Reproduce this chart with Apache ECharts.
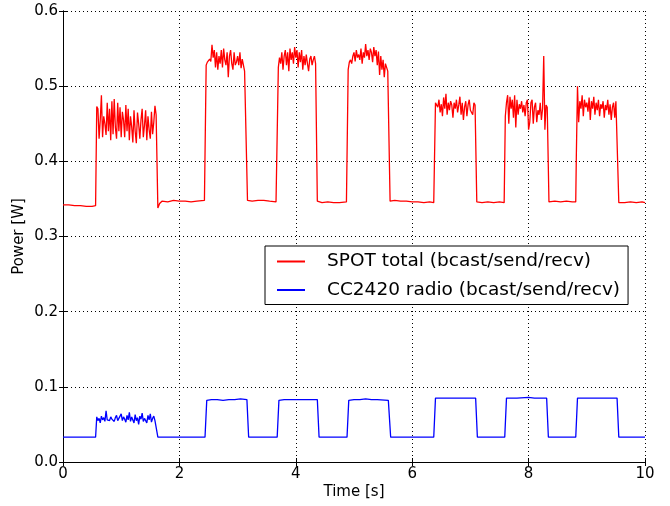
<!DOCTYPE html>
<html>
<head>
<meta charset="utf-8">
<style>
    html, body { margin: 0; padding: 0; background: #fff; }
    #chart1 { width: 670px; height: 506px; }
</style>
<script src="https://cdn.jsdelivr.net/npm/echarts@6/dist/echarts.min.js"></script>
</head>
<body>
<div id="chart1"></div>
<script>
// sample spacing inside the busy periods (s)
var step = 0.02;

// SPOT total - busy periods, start time of each and its samples (W)
var redStarts = [0.58, 2.46, 3.70, 4.90, 6.40, 7.60, 8.84];
var redBusy1 = [0.473, 0.470, 0.430, 0.455, 0.488, 0.432, 0.460, 0.450, 0.435, 0.478,
    0.440, 0.470, 0.428, 0.480, 0.436, 0.483, 0.445, 0.430, 0.478, 0.440,
    0.472, 0.432, 0.466, 0.455, 0.432, 0.475, 0.440, 0.470, 0.428, 0.460,
    0.446, 0.425, 0.468, 0.440, 0.424, 0.465, 0.450, 0.430, 0.455, 0.470,
    0.432, 0.448, 0.468, 0.428, 0.460, 0.442, 0.430, 0.466, 0.436, 0.452,
    0.474, 0.462];
var redBusy2 = [0.528, 0.532, 0.530, 0.536, 0.533, 0.555, 0.538, 0.548, 0.525, 0.545,
    0.522, 0.540, 0.530, 0.548, 0.525, 0.550, 0.535, 0.528, 0.545, 0.512,
    0.540, 0.548, 0.530, 0.522, 0.545, 0.528, 0.532, 0.540, 0.528, 0.545,
    0.524, 0.536, 0.528, 0.520, 0.518];
var redBusy3 = [0.525, 0.538, 0.530, 0.545, 0.522, 0.540, 0.548, 0.528, 0.545, 0.520,
    0.550, 0.535, 0.545, 0.530, 0.552, 0.538, 0.548, 0.525, 0.545, 0.532,
    0.548, 0.522, 0.540, 0.528, 0.542, 0.530, 0.520, 0.536, 0.540, 0.528,
    0.535, 0.540, 0.530];
var redBusy4 = [0.522, 0.532, 0.535, 0.530, 0.540, 0.545, 0.533, 0.548, 0.538, 0.542,
    0.535, 0.550, 0.530, 0.545, 0.538, 0.556, 0.540, 0.548, 0.535, 0.550,
    0.545, 0.532, 0.552, 0.540, 0.548, 0.528, 0.546, 0.515, 0.540, 0.522,
    0.535, 0.512, 0.530, 0.525, 0.520];
var redBusy5 = [0.478, 0.480, 0.472, 0.482, 0.465, 0.476, 0.460, 0.485, 0.470, 0.490,
    0.462, 0.478, 0.468, 0.480, 0.475, 0.458, 0.478, 0.470, 0.482, 0.465,
    0.475, 0.486, 0.462, 0.478, 0.455, 0.472, 0.480, 0.460, 0.475, 0.482,
    0.468, 0.470, 0.462, 0.478, 0.475];
var redBusy6 = [0.460, 0.478, 0.488, 0.450, 0.486, 0.470, 0.482, 0.458, 0.488, 0.445,
    0.482, 0.462, 0.476, 0.470, 0.480, 0.465, 0.475, 0.460, 0.478, 0.482,
    0.442, 0.452, 0.478, 0.482, 0.450, 0.472, 0.478, 0.452, 0.468, 0.462,
    0.478, 0.455, 0.470, 0.540, 0.442, 0.475, 0.472];
var redBusy7 = [0.500, 0.452, 0.480, 0.470, 0.488, 0.460, 0.482, 0.472, 0.478, 0.466,
    0.485, 0.455, 0.480, 0.470, 0.486, 0.462, 0.478, 0.468, 0.482, 0.460,
    0.476, 0.470, 0.480, 0.458, 0.475, 0.468, 0.482, 0.462, 0.476, 0.455,
    0.472, 0.478, 0.458, 0.480, 0.478];

// SPOT total - idle periods [time, W]
var redIdle = [
    [0.00, 0.342], [0.10, 0.342], [0.20, 0.341], [0.30, 0.341], [0.40, 0.340], [0.50, 0.340], [0.56, 0.341],
    [1.63, 0.338], [1.66, 0.344], [1.70, 0.347], [1.80, 0.346], [1.90, 0.348], [2.00, 0.347], [2.10, 0.347],
    [2.20, 0.346], [2.30, 0.347], [2.43, 0.348],
    [3.17, 0.348], [3.25, 0.347], [3.35, 0.348], [3.45, 0.348], [3.55, 0.347], [3.66, 0.346],
    [4.37, 0.347], [4.45, 0.345], [4.55, 0.346], [4.65, 0.345], [4.75, 0.345], [4.87, 0.346],
    [5.62, 0.347], [5.70, 0.348], [5.80, 0.347], [5.90, 0.347], [6.00, 0.346], [6.10, 0.346],
    [6.20, 0.345], [6.30, 0.346], [6.37, 0.345],
    [7.11, 0.346], [7.20, 0.345], [7.30, 0.346], [7.40, 0.345], [7.50, 0.346], [7.58, 0.345],
    [8.35, 0.346], [8.45, 0.347], [8.55, 0.346], [8.65, 0.347], [8.75, 0.346], [8.81, 0.346], [8.82, 0.406],
    [9.55, 0.345], [9.65, 0.345], [9.75, 0.346], [9.85, 0.345], [9.95, 0.346], [10.00, 0.345]
];

// CC2420 radio - first (noisy) busy period
var blueStart1 = 0.58;
var blueBusy1 = [0.060, 0.055, 0.058, 0.052, 0.061, 0.056, 0.059, 0.054, 0.068, 0.056,
    0.058, 0.055, 0.060, 0.057, 0.058, 0.054, 0.059, 0.062, 0.055, 0.058,
    0.056, 0.064, 0.055, 0.060, 0.057, 0.053, 0.062, 0.056, 0.066, 0.054,
    0.060, 0.058, 0.052, 0.063, 0.055, 0.059, 0.050, 0.061, 0.057, 0.065,
    0.054, 0.058, 0.060, 0.052, 0.062, 0.056, 0.064, 0.053, 0.058, 0.061,
    0.055, 0.057];

// CC2420 radio - everything else [time, W]
var blueRest = [
    [0.00, 0.033], [0.30, 0.033], [0.56, 0.033],
    [1.63, 0.033], [2.00, 0.033], [2.44, 0.033],
    [2.47, 0.082], [2.55, 0.083], [2.65, 0.083], [2.75, 0.082], [2.85, 0.083], [2.95, 0.083], [3.05, 0.084], [3.16, 0.083],
    [3.19, 0.033], [3.40, 0.033], [3.68, 0.033],
    [3.71, 0.082], [3.80, 0.083], [3.90, 0.083], [4.00, 0.083], [4.10, 0.083], [4.20, 0.083], [4.37, 0.083],
    [4.40, 0.033], [4.60, 0.033], [4.88, 0.033],
    [4.91, 0.082], [5.00, 0.083], [5.10, 0.083], [5.20, 0.084], [5.30, 0.083], [5.40, 0.083], [5.59, 0.082],
    [5.63, 0.033], [6.00, 0.033], [6.37, 0.033],
    [6.40, 0.085], [6.50, 0.085], [6.60, 0.085], [6.70, 0.085], [6.80, 0.085], [6.90, 0.085], [7.09, 0.085],
    [7.12, 0.033], [7.35, 0.033], [7.59, 0.033],
    [7.62, 0.085], [7.80, 0.085], [8.00, 0.086], [8.10, 0.085], [8.31, 0.085],
    [8.34, 0.033], [8.60, 0.033], [8.81, 0.033],
    [8.84, 0.085], [9.00, 0.085], [9.20, 0.085], [9.40, 0.085], [9.52, 0.085],
    [9.55, 0.033], [9.80, 0.033], [10.00, 0.033]
];

var seriesNames = ['SPOT total (bcast/send/recv)', 'CC2420 radio (bcast/send/recv)'];

function busyPoints(start, values) {
    var pts = [];
    for (var i = 0; i < values.length; i++) {
        pts.push([+(start + i * step).toFixed(3), values[i]]);
    }
    return pts;
}

function byTime(a, b) {
    return a[0] - b[0];
}

drawChart1();

function drawChart1() {
    var dom1 = document.getElementById("chart1");
    var myChart1 = echarts.init(dom1);

    var redBusy = [redBusy1, redBusy2, redBusy3, redBusy4, redBusy5, redBusy6, redBusy7];
    var redData = redIdle.slice();
    for (var i = 0; i < redBusy.length; i++) {
        redData = redData.concat(busyPoints(redStarts[i], redBusy[i]));
    }
    redData.sort(byTime);
    var blueData = blueRest.concat(busyPoints(blueStart1, blueBusy1)).sort(byTime);

    var font = 'DejaVu Sans';
    var gridDots = {
        show: true,
        lineStyle: { color: '#000', type: [1, 3], width: 1 }
    };

    var option = {
        animation: false,
        backgroundColor: '#fff',
        textStyle: { fontFamily: font },
        grid: {
            left: 63,
            right: 25,
            top: 11,
            bottom: 44,
            containLabel: false
        },
        legend: {
            orient: 'vertical',
            left: 265,
            top: 246,
            backgroundColor: '#fff',
            borderColor: '#000',
            borderWidth: 1,
            borderRadius: 0,
            padding: [6, 8, 5, 12],
            itemGap: 9.5,
            itemWidth: 28,
            itemHeight: 2,
            icon: 'rect',
            textStyle: {
                fontFamily: font,
                fontSize: 18.5,
                color: '#000',
                padding: [0, 0, 0, 17]
            },
            data: seriesNames
        },
        xAxis: [{
            type: 'value',
            min: 0,
            max: 10,
            interval: 2,
            name: 'Time [s]',
            nameLocation: 'middle',
            nameGap: 23,
            nameMoveOverlap: false,
            nameTextStyle: { fontFamily: font, fontSize: 15, color: '#000' },
            axisLine: { show: true, lineStyle: { color: '#000', width: 1 } },
            axisTick: { show: true, inside: true, length: 4, lineStyle: { color: '#000' } },
            axisLabel: { color: '#000', fontSize: 15, fontFamily: font, margin: 5 },
            splitLine: gridDots
        }, {
            type: 'value',
            position: 'top',
            min: 0,
            max: 10,
            interval: 2,
            axisLine: { show: true, lineStyle: { color: '#000', width: 1 } },
            axisTick: { show: true, inside: true, length: 4, lineStyle: { color: '#000' } },
            axisLabel: { show: false },
            splitLine: { show: false }
        }],
        yAxis: [{
            type: 'value',
            min: 0,
            max: 0.6,
            interval: 0.1,
            name: 'Power [W]',
            nameLocation: 'middle',
            nameGap: 36,
            nameMoveOverlap: false,
            nameRotate: 90,
            nameTextStyle: { fontFamily: font, fontSize: 15, color: '#000' },
            axisLine: { show: true, lineStyle: { color: '#000', width: 1 } },
            axisTick: { show: true, inside: true, length: 4, lineStyle: { color: '#000' } },
            axisLabel: {
                color: '#000',
                fontSize: 15,
                fontFamily: font,
                margin: 5,
                formatter: function (v) { return v.toFixed(1); }
            },
            splitLine: gridDots
        }, {
            type: 'value',
            position: 'right',
            min: 0,
            max: 0.6,
            interval: 0.1,
            axisLine: { show: true, lineStyle: { color: '#000', width: 1 } },
            axisTick: { show: true, inside: true, length: 4, lineStyle: { color: '#000' } },
            axisLabel: { show: false },
            splitLine: { show: false }
        }],
        series: [{
            name: seriesNames[0],
            type: 'line',
            showSymbol: false,
            symbol: 'none',
            color: '#ff0000',
            lineStyle: { color: '#ff0000', width: 1.3 },
            data: redData
        }, {
            name: seriesNames[1],
            type: 'line',
            showSymbol: false,
            symbol: 'none',
            color: '#0000ff',
            lineStyle: { color: '#0000ff', width: 1.3 },
            data: blueData
        }]
    };
    if (option && typeof option === "object") {
        myChart1.setOption(option, true);
        window.onresize = myChart1.resize;
    }
}
</script>
</body>
</html>
